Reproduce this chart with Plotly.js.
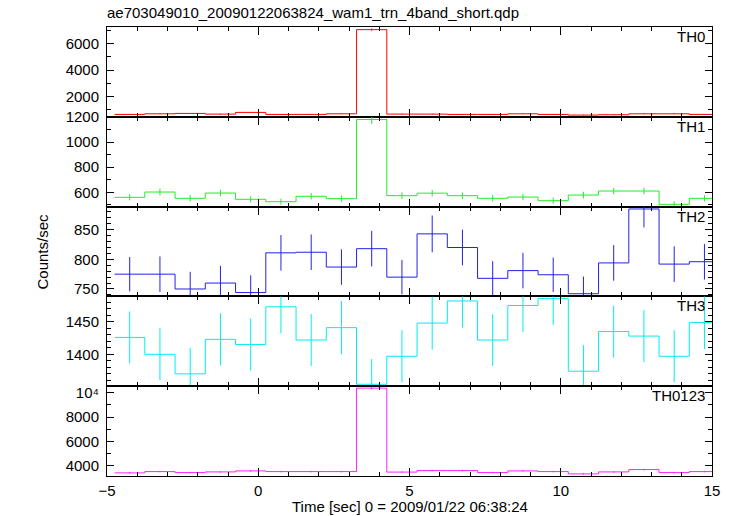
<!DOCTYPE html>
<html>
<head>
<meta charset="utf-8">
<script src="https://cdn.plot.ly/plotly-3.0.1.min.js"></script>
<style>html,body{margin:0;padding:0;background:#fff;}#plot{width:733px;height:516px;}</style>
</head>
<body>
<div id="plot"></div>
<script>
// Bin centres (sec), bin width 1 s
const binCenters = [-4.25,-3.25,-2.25,-1.25,-0.25,0.75,1.75,2.75,3.75,4.75,5.75,6.75,7.75,8.75,9.75,10.75,11.75,12.75,13.75,14.75];
const binWidth = 1.0;

const th0   = [641,687,716,664,792,641,641,687,7058,664,664,641,641,687,641,591,616,687,687,641];
const th0Err= [27,28,29,28,30,27,27,28,90,28,28,27,27,28,27,26,27,28,28,27];
const th1   = [560,602,552,594,544,525,568,549,1179,573,593,573,552,562,533,578,610,610,504,552];
const th1Err= [25,26,25,26,25,24,25,25,37,26,26,26,25,25,25,26,26,26,24,25];
const th2   = [775,775,750,760,744,811,812,787,818,770,843,820,768,781,774,742,794,885,792,796];
const th2Err= [29,30,29,29,29,30,30,30,30,29,31,30,29,30,29,29,30,31,30,30];
const th3   = [1426,1400,1370,1423,1415,1473,1422,1441,1354,1397,1448,1482,1422,1475,1486,1374,1435,1428,1397,1449];
const th3Err= [40,40,40,40,40,41,40,41,39,40,41,41,40,41,41,40,40,40,40,41];
const th0123   = [3397,3504,3422,3477,3560,3504,3504,3504,10387,3463,3587,3587,3422,3560,3504,3312,3477,3670,3422,3504];
const th0123Err= [62,63,62,63,64,63,63,63,109,63,64,64,62,64,63,61,63,65,62,63];

const panelNames = ["TH0","TH1","TH2","TH3","TH0123"];
const panelColors = ["#ff0000","#22ee22","#2222e6","#00eeee","#ff22ff"];
const yRanges = [[460,7257],[486,1200.5],[737.5,889],[1351,1489],[3140,10545]];
const yMajor = [2000,200,50,50,2000];
const yMinor = [1000,100,10,10,1000];
const th0123TickVals = [4000,6000,8000,10000];
const th0123TickText = ["4000","6000","8000","10\u2074"];
const xTickVals = [-5,0,5,10,15];
const xTickText = ["\u22125","0","5","10","15"];

const titleText = "ae703049010_20090122063824_wam1_trn_4band_short.qdp";
const xTitle = "Time [sec] 0 = 2009/01/22 06:38:24";
const yTitle = "Counts/sec";

const series = [th0, th1, th2, th3, th0123];
const errs = [th0Err, th1Err, th2Err, th3Err, th0123Err];

const FONT = "Liberation Sans, Arial, Helvetica, sans-serif";
const traces = [];
const layout = {
  width: 733, height: 516,
  margin: {l: 107, r: 21, t: 27, b: 40},
  paper_bgcolor: "#fff", plot_bgcolor: "#fff",
  showlegend: false,
  font: {family: FONT, size: 15, color: "#000"},
  title: {text: titleText, x: 0, xref: "paper", xanchor: "left", y: 0.975, yref: "container", yanchor: "middle",
          font: {family: FONT, size: 15, color: "#000"}},
  annotations: []
};

for (let i = 0; i < 5; i++) {
  const n = i + 1;
  const xa = n === 1 ? "x" : "x" + n;
  const ya = n === 1 ? "y" : "y" + n;
  const vals = series[i];
  const edges = binCenters.map(c => c - binWidth / 2).concat([binCenters[binCenters.length - 1] + binWidth / 2]);
  const stepY = vals.concat([vals[vals.length - 1]]);
  traces.push({x: edges, y: stepY, xaxis: xa, yaxis: ya, type: "scatter", mode: "lines",
               line: {shape: "hv", color: panelColors[i], width: 1}, hoverinfo: "skip"});
  traces.push({x: binCenters, y: vals, xaxis: xa, yaxis: ya, type: "scatter", mode: "markers",
               marker: {size: 1, color: panelColors[i], opacity: 0},
               error_y: {type: "data", array: errs[i], visible: true, color: panelColors[i], thickness: 1, width: 0}});

  const top = 1 - i * 0.2;
  const bot = 1 - (i + 1) * 0.2;
  const xkey = n === 1 ? "xaxis" : "xaxis" + n;
  const ykey = n === 1 ? "yaxis" : "yaxis" + n;
  layout[xkey] = {
    domain: [0, 1], anchor: ya, range: [-5, 15],
    showgrid: false, zeroline: false, showline: true, linecolor: "#000", linewidth: 1, mirror: "ticks",
    ticks: "inside", ticklen: 8, tickcolor: "#000", tickwidth: 1,
    tickmode: "array", tickvals: xTickVals, ticktext: xTickText,
    minor: {dtick: 1, tick0: 0, ticks: "inside", ticklen: 4, tickcolor: "#000", tickwidth: 1, showgrid: false},
    showticklabels: n === 5, ticklabelstandoff: 1,
    tickfont: {family: FONT, size: 15, color: "#000"}
  };
  if (n !== 1) layout[xkey].matches = "x";
  const yax = {
    domain: [bot, top], anchor: xa, range: yRanges[i],
    showgrid: false, zeroline: false, showline: true, linecolor: "#000", linewidth: 1, mirror: "ticks",
    ticks: "inside", ticklen: 7, tickcolor: "#000", tickwidth: 1,
    minor: {dtick: yMinor[i], ticks: "inside", ticklen: 4, tickcolor: "#000", tickwidth: 1, showgrid: false},
    ticklabelstandoff: 4,
    tickfont: {family: FONT, size: 15, color: "#000"}
  };
  if (n === 5) {
    yax.tickmode = "array"; yax.tickvals = th0123TickVals; yax.ticktext = th0123TickText;
    yax.minor.tick0 = 0;
  } else {
    yax.dtick = yMajor[i]; yax.tick0 = 0; yax.minor.tick0 = 0;
  }
  layout[ykey] = yax;

  layout.annotations.push({text: panelNames[i], xref: "paper", yref: "paper", x: 1, y: top,
    xanchor: "right", yanchor: "top", xshift: -5, yshift: 1, showarrow: false,
    font: {family: FONT, size: 15, color: "#000"}});
}

layout.annotations.push({text: yTitle, xref: "paper", yref: "paper", x: 0, y: 0.5, xshift: -65,
  xanchor: "center", yanchor: "middle", textangle: -90, showarrow: false,
  font: {family: FONT, size: 15, color: "#000"}});
layout.annotations.push({text: xTitle, xref: "paper", yref: "paper", x: 0.5, y: 0, yshift: -20,
  xanchor: "center", yanchor: "top", showarrow: false,
  font: {family: FONT, size: 15, color: "#000"}});

Plotly.newPlot("plot", traces, layout, {displayModeBar: false, staticPlot: true});
</script>
</body>
</html>
